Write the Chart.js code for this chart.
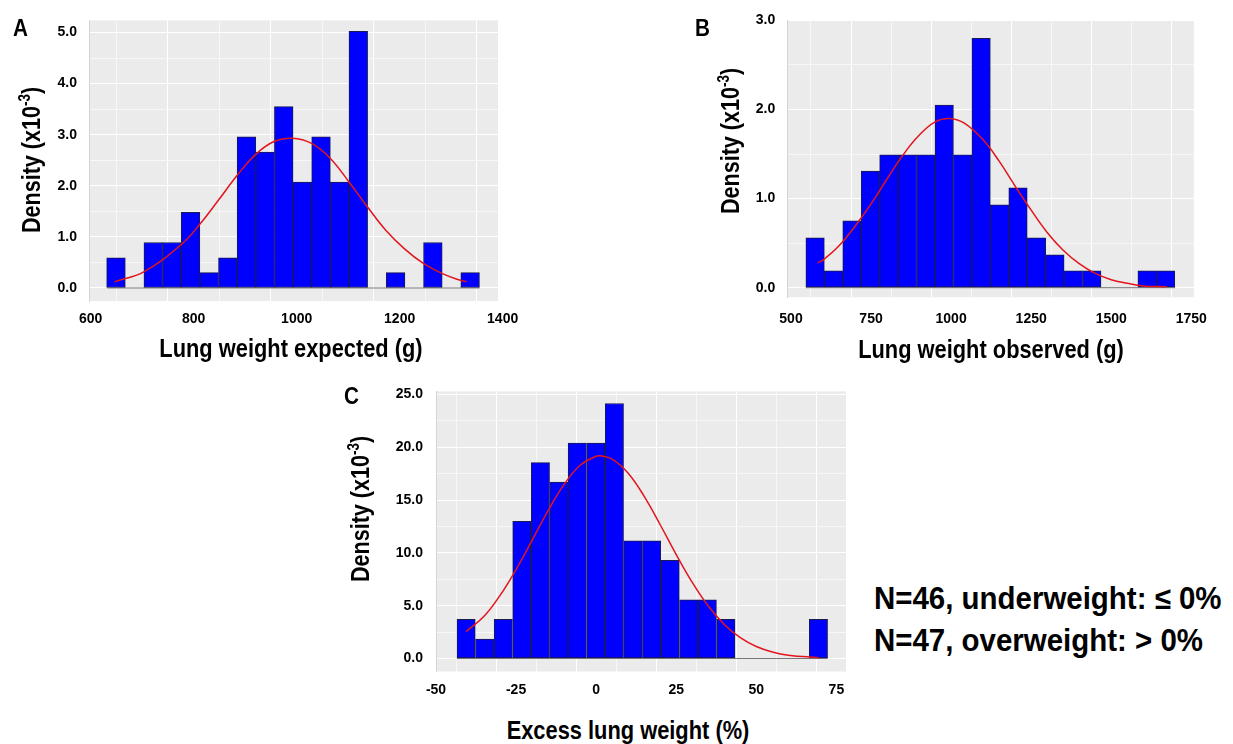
<!DOCTYPE html>
<html>
<head>
<meta charset="utf-8">
<script src="https://cdn.jsdelivr.net/npm/chart.js@4.4.1/dist/chart.umd.min.js"></script>
<style>
  body { margin: 0; background: #fff; }
  #wrap { position: relative; width: 1233px; height: 744px; overflow: hidden;
          font-family: "Liberation Sans", Arial, sans-serif; font-weight: bold; color: #000; }
  canvas { position: absolute; }
  .t { position: absolute; white-space: nowrap; line-height: 1; }
  .xt { font-size: 26px; transform: translate(-50%, -50%) scaleX(0.84); }
  .yt { font-size: 26px; transform: translate(-50%, -50%) rotate(-90deg) scaleX(0.83); }
  .yt sup { font-size: 62%; line-height: 0; }
  .lt { font-size: 23px; transform-origin: left center; transform: scaleX(0.9); }
  .note { font-size: 31px; transform-origin: left center; transform: scaleX(0.95); }
</style>
</head>
<body>
<div id="wrap">
  <canvas id="chartA" width="540" height="340" style="left:0px;top:0px"></canvas>
  <canvas id="chartB" width="520" height="340" style="left:700px;top:0px"></canvas>
  <canvas id="chartC" width="530" height="340" style="left:340px;top:370px"></canvas>

  <div class="t lt" style="left:13px;top:17px">A</div>
  <div class="t lt" style="left:695px;top:17px">B</div>
  <div class="t lt" style="left:344px;top:385px">C</div>

  <div class="t yt" style="left:31px;top:160px">Density (x10<sup>-3</sup>)</div>
  <div class="t yt" style="left:730px;top:141px">Density (x10<sup>-3</sup>)</div>
  <div class="t yt" style="left:360px;top:509px">Density (x10<sup>-3</sup>)</div>

  <div class="t xt" style="left:291px;top:348px">Lung weight expected (g)</div>
  <div class="t xt" style="left:991px;top:349px">Lung weight observed (g)</div>
  <div class="t xt" style="left:628px;top:730px">Excess lung weight (%)</div>

  <div class="t note" style="left:874px;top:583px">N=46, underweight: ≤ 0%</div>
  <div class="t note" style="left:874px;top:625px">N=47, overweight: &gt; 0%</div>
</div>
<script>
// A: lung weight expected (g)
const aBins = [649.1, 685.3, 721.5, 757.7, 793.9, 830.1, 866.3, 902.5, 938.7, 974.9,
               1011.1, 1047.3, 1083.5, 1119.7, 1155.9, 1192.1, 1228.3, 1264.5, 1300.7, 1336.9];
const aDensity = [0.59, 0, 0.89, 0.89, 1.48, 0.30, 0.59, 2.96, 2.66, 3.55,
                  2.07, 2.96, 2.07, 5.02, 0, 0.30, 0, 0.89, 0, 0.30];
const aEdges = [632, 1355];
const aCurveX = [646, 704, 777, 813, 849, 885, 921, 957, 991, 1029, 1065, 1102, 1138, 1173, 1210, 1246, 1283, 1318, 1330];
const aCurveY = [0.12, 0.32, 0.86, 1.26, 1.73, 2.21, 2.62, 2.87, 2.93, 2.83, 2.54, 2.07, 1.58, 1.13, 0.76, 0.48, 0.28, 0.15, 0.12];
const aXGrid = [600, 700, 800, 900, 1000, 1100, 1200, 1300, 1400];
const aXLabels = [600, 800, 1000, 1200, 1400];
const aYGrid = [0, 0.5, 1, 1.5, 2, 2.5, 3, 3.5, 4, 4.5, 5];
const aYLabels = [0, 1, 2, 3, 4, 5];

// B: lung weight observed (g)
const bBins = [575.3, 632.9, 690.5, 748.1, 805.7, 863.3, 920.9, 978.5, 1036.1, 1093.7,
               1151.3, 1208.9, 1266.5, 1324.1, 1381.7, 1439.3, 1496.9, 1554.5, 1612.1, 1669.7];
const bDensity = [0.56, 0.19, 0.75, 1.31, 1.49, 1.49, 1.49, 2.05, 1.49, 2.80,
                  0.93, 1.12, 0.56, 0.37, 0.19, 0.19, 0, 0, 0.19, 0.19];
const bEdges = [546.5, 1699.5];
const bCurveX = [583, 600, 650, 700, 750, 800, 850, 900, 950, 993, 1040, 1100, 1150, 1200, 1250, 1300, 1350, 1400, 1450, 1500, 1550, 1600, 1673];
const bCurveY = [0.28, 0.31, 0.47, 0.69, 0.94, 1.22, 1.49, 1.71, 1.86, 1.90, 1.85, 1.66, 1.42, 1.14, 0.87, 0.62, 0.42, 0.27, 0.16, 0.09, 0.05, 0.02, 0.01];
const bXGrid = [500, 625, 750, 875, 1000, 1125, 1250, 1375, 1500, 1625, 1750];
const bXLabels = [500, 750, 1000, 1250, 1500, 1750];
const bYGrid = [0, 0.5, 1, 1.5, 2, 2.5, 3];
const bYLabels = [0, 1, 2, 3];

// C: excess lung weight (%)
const cBins = [-40.6, -34.8, -29.0, -23.2, -17.4, -11.6, -5.9, -0.1, 5.7, 11.5,
               17.3, 23.1, 28.9, 34.7, 40.5, 46.3, 52.1, 57.9, 63.6, 69.4];
const cDensity = [3.7, 1.85, 3.7, 13.0, 18.55, 16.7, 20.4, 20.4, 24.15, 11.15,
                  11.15, 9.3, 5.55, 5.55, 3.7, 0, 0, 0, 0, 3.7];
const cEdges = [-43.5, 72.3];
const cCurveX = [-40.6, -35, -30, -25, -20, -15, -10, -5, 0, 1.3, 5, 10, 15, 20, 25, 30, 35, 40, 45, 50, 55, 60, 69.4];
const cCurveY = [2.55, 4.0, 5.98, 8.43, 11.19, 14.0, 16.49, 18.31, 19.16, 19.2, 18.89, 17.55, 15.36, 12.67, 9.84, 7.21, 4.97, 3.23, 1.98, 1.14, 0.62, 0.32, 0.08];
const cXGrid = [-50, -37.5, -25, -12.5, 0, 12.5, 25, 37.5, 50, 62.5, 75];
const cXLabels = [-50, -25, 0, 25, 50, 75];
const cYGrid = [0, 2.5, 5, 7.5, 10, 12.5, 15, 17.5, 20, 22.5, 25];
const cYLabels = [0, 5, 10, 15, 20, 25];

Chart.defaults.font.family = '"Liberation Sans", Arial, sans-serif';
Chart.defaults.font.weight = 'bold';
Chart.defaults.font.size = 14;
Chart.defaults.color = '#000';

// grey panel behind the bars
const plotBg = {
  id: 'plotBg',
  beforeDraw(chart) {
    const a = chart.chartArea, ctx = chart.ctx;
    ctx.save();
    ctx.fillStyle = '#ebebeb';
    ctx.fillRect(a.left, a.top, a.right - a.left, a.bottom - a.top);
    ctx.restore();
  }
};

function histogram(id, p) {
  new Chart(document.getElementById(id), {
    type: 'bar',
    data: {
      datasets: [{
        type: 'line',
        data: p.curveX.map((x, i) => ({ x: x, y: p.curveY[i] })),
        borderColor: '#e3141c',
        borderWidth: 1.5,
        pointRadius: 0,
        tension: 0.4,
        order: 0
      }, {
        data: p.bins.map((x, i) => ({ x: x, y: p.density[i] || null })),
        backgroundColor: '#0000ff',
        borderColor: '#1b1b4d',
        borderWidth: 1,
        borderSkipped: false,
        barPercentage: 1,
        categoryPercentage: 1,
        order: 1
      }, {
        type: 'line',
        data: p.edges.map(x => ({ x: x, y: 0 })),
        borderColor: '#777',
        borderWidth: 1,
        pointRadius: 0,
        order: 2
      }]
    },
    options: {
      responsive: false,
      animation: false,
      devicePixelRatio: 1,
      layout: { padding: p.pad },
      plugins: { legend: { display: false }, tooltip: { enabled: false } },
      scales: {
        x: {
          type: 'linear', min: p.xMin, max: p.xMax, offset: false,
          afterBuildTicks: s => { s.ticks = p.xGrid.map(v => ({ value: v })); },
          afterFit: s => { s.height = p.xH; },
          ticks: { autoSkip: false, maxRotation: 0, padding: p.xPad,
                   callback: v => p.xLabels.includes(v) ? String(v) : '' },
          grid: { color: c => c.tick && p.xLabels.includes(c.tick.value) ? '#ffffff' : '#f7f7f7', drawTicks: false },
          border: { display: false }
        },
        y: {
          min: p.yMin, max: p.yMax,
          afterBuildTicks: s => { s.ticks = p.yGrid.map(v => ({ value: v })); },
          afterFit: s => { s.width = p.yW; },
          ticks: { autoSkip: false, padding: p.yPad,
                   callback: v => p.yLabels.includes(v) ? v.toFixed(1) : '' },
          grid: { color: c => c.tick && p.yLabels.includes(c.tick.value) ? '#ffffff' : '#f7f7f7', drawTicks: false },
          border: { display: true, color: '#d4d4d4' }
        }
      }
    },
    plugins: [plotBg]
  });
}

histogram('chartA', {
  bins: aBins, density: aDensity, edges: aEdges, curveX: aCurveX, curveY: aCurveY,
  xGrid: aXGrid, xLabels: aXLabels, yGrid: aYGrid, yLabels: aYLabels,
  xMin: 596.7, xMax: 1391, yMin: -0.255, yMax: 5.236,
  pad: { top: 15, right: 42, left: 0, bottom: 0 }, yW: 89, xH: 39, xPad: 10, yPad: 12
});

histogram('chartB', {
  bins: bBins, density: bDensity, edges: bEdges, curveX: bCurveX, curveY: bCurveY,
  xGrid: bXGrid, xLabels: bXLabels, yGrid: bYGrid, yLabels: bYLabels,
  xMin: 488.5, xMax: 1758, yMin: -0.108, yMax: 3.0,
  pad: { top: 8.9, right: 23.3, left: 0, bottom: 0 }, yW: 87.3, xH: 42.7, xPad: 13, yPad: 12
});

histogram('chartC', {
  bins: cBins, density: cDensity, edges: cEdges, curveX: cCurveX, curveY: cCurveY,
  xGrid: cXGrid, xLabels: cXLabels, yGrid: cYGrid, yLabels: cYLabels,
  xMin: -50, xMax: 78, yMin: -1.23, yMax: 25.3,
  pad: { top: 16, right: 24, left: 0, bottom: 0 }, yW: 96, xH: 38.5, xPad: 10, yPad: 13
});
</script>
</body>
</html>
